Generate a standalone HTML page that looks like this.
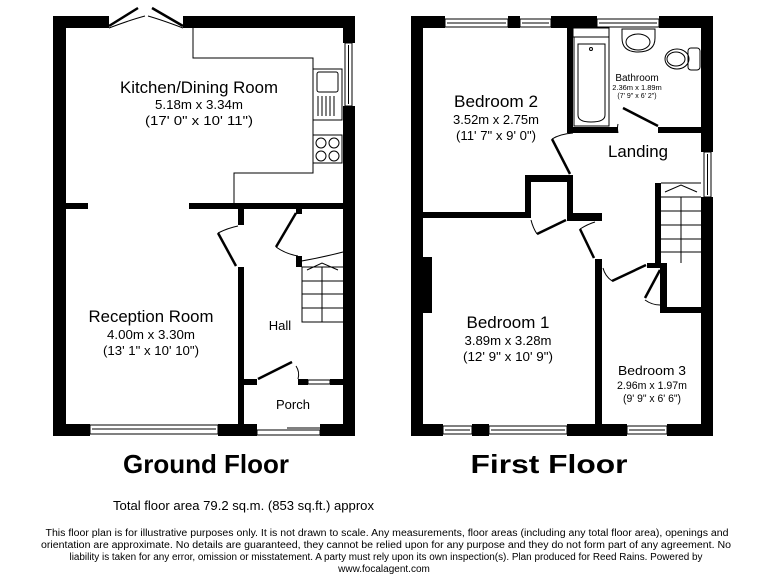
<!DOCTYPE html>
<html><head><meta charset="utf-8"><style>
html,body{margin:0;padding:0;background:#fff;}
svg{display:block;}
text{font-family:"Liberation Sans",Arial,sans-serif;fill:#000;}
</style></head><body>
<svg width="768" height="576" viewBox="0 0 768 576" xmlns="http://www.w3.org/2000/svg">
<g fill="#000">
<rect x="53" y="16" width="56" height="12"/>
<rect x="183" y="16" width="172" height="12"/>
<rect x="53" y="16" width="13" height="420"/>
<rect x="343" y="16" width="12" height="27"/>
<rect x="343" y="106" width="12" height="330"/>
<rect x="53" y="424" width="37" height="12"/>
<rect x="218" y="424" width="39" height="12"/>
<rect x="320" y="424" width="35" height="12"/>
<rect x="66" y="203" width="22" height="6"/>
<rect x="189" y="203" width="154" height="6"/>
<rect x="238" y="209" width="6" height="16"/>
<rect x="238" y="267" width="6" height="157"/>
<rect x="244" y="379" width="13" height="6"/>
<rect x="298" y="379" width="10" height="6"/>
<rect x="330" y="379" width="13" height="6"/>
<rect x="296" y="209" width="6" height="5"/>
<rect x="296" y="256" width="6" height="11"/>
</g>
<g fill="none" stroke="#000" stroke-width="1">
<rect x="345" y="43" width="7" height="63" fill="#fff"/>
<line x1="348.5" y1="45" x2="348.5" y2="104"/>
<rect x="90" y="425" width="128" height="9"/>
<line x1="92" y1="429" x2="216" y2="429"/>
<rect x="308" y="380" width="22" height="4"/>
<rect x="257" y="430" width="63" height="5"/>
<line x1="287" y1="428" x2="320" y2="428"/>
<polyline points="193,28 193,58 313,58 313,173 234,173 234,203"/>
<rect x="313" y="69" width="29" height="51"/>
<rect x="317" y="72" width="21" height="20" rx="2"/>
<line x1="318" y1="96" x2="318" y2="116"/><line x1="322" y1="96" x2="322" y2="116"/><line x1="326" y1="96" x2="326" y2="116"/><line x1="330" y1="96" x2="330" y2="116"/><line x1="334" y1="96" x2="334" y2="116"/>
<rect x="313" y="135" width="29" height="28"/>
<circle cx="321" cy="143" r="5"/><circle cx="334" cy="143" r="5"/><circle cx="321" cy="156" r="5"/><circle cx="334" cy="156" r="5"/>
<polyline points="343,267 302,267 302,322 343,322"/>
<line x1="302" y1="281" x2="343" y2="281"/><line x1="302" y1="294" x2="343" y2="294"/><line x1="302" y1="308" x2="343" y2="308"/>
<line x1="322" y1="267" x2="322" y2="322"/>
<polyline points="307,270 322,263 338,270"/>
<path d="M218,233 Q228,228 238,226"/>
<path d="M276,247 Q286,254 298,256"/>
<path d="M296,262 Q320,258 343,252"/>
<path d="M296,366 Q300,372 298,379"/>
<path d="M109,28 Q130,20 145,16"/><path d="M183,28 Q162,20 148,16"/>
</g>
<g stroke="#000" stroke-width="2.5" fill="none">
<line x1="218" y1="233" x2="236" y2="266"/>
<line x1="296" y1="213" x2="276" y2="247"/>
<line x1="258" y1="379" x2="292" y2="362"/>
<line x1="109" y1="26" x2="138" y2="8"/>
<line x1="183" y1="26" x2="152" y2="8"/>
</g>

<g fill="#000">
<rect x="411" y="16" width="34" height="12"/>
<rect x="508" y="16" width="12" height="12"/>
<rect x="551" y="16" width="46" height="12"/>
<rect x="659" y="16" width="54" height="12"/>
<rect x="411" y="16" width="12" height="420"/>
<rect x="701" y="16" width="12" height="136"/>
<rect x="701" y="197" width="12" height="239"/>
<rect x="411" y="424" width="32" height="12"/>
<rect x="472" y="424" width="17" height="12"/>
<rect x="567" y="424" width="60" height="12"/>
<rect x="667" y="424" width="46" height="12"/>
<rect x="567" y="28" width="6" height="105"/>
<rect x="567" y="127" width="51" height="6"/>
<rect x="658" y="127" width="43" height="6"/>
<rect x="423" y="212" width="108" height="6"/>
<rect x="525" y="175" width="48" height="7"/>
<rect x="525" y="175" width="6" height="43"/>
<rect x="567" y="175" width="6" height="46"/>
<rect x="567" y="213" width="35" height="8"/>
<rect x="595" y="259" width="7" height="165"/>
<rect x="655" y="183" width="6" height="85"/>
<rect x="647" y="263" width="20" height="5"/>
<rect x="660" y="268" width="7" height="45"/>
<rect x="660" y="307" width="41" height="6"/>
<rect x="423" y="257" width="9" height="56"/>
</g>
<g fill="none" stroke="#000" stroke-width="1">
<rect x="445" y="19" width="63" height="8"/><line x1="447" y1="23" x2="506" y2="23"/>
<rect x="520" y="19" width="31" height="8"/><line x1="522" y1="23" x2="549" y2="23"/>
<rect x="597" y="19" width="62" height="8"/><line x1="599" y1="23" x2="657" y2="23"/>
<rect x="704" y="152" width="7" height="45"/><line x1="707.5" y1="154" x2="707.5" y2="195"/>
<rect x="443" y="426" width="29" height="8"/><line x1="445" y1="430" x2="470" y2="430"/>
<rect x="489" y="426" width="78" height="8"/><line x1="491" y1="430" x2="565" y2="430"/>
<rect x="627" y="426" width="40" height="8"/><line x1="629" y1="430" x2="665" y2="430"/>
<rect x="573" y="28" width="36" height="9"/>
<rect x="574" y="37" width="35" height="89"/>
<path d="M578,44 L605,44 L605,115 Q605,122 591,122 Q578,122 578,115 Z"/>
<circle cx="591" cy="49" r="1.5"/>
<path d="M622,29 L655,29 L655,38 Q655,52 638,52 Q622,52 622,38 Z"/>
<ellipse cx="638" cy="42" rx="12" ry="8"/>
<rect x="688" y="48" width="12" height="22" rx="3"/>
<ellipse cx="677" cy="59" rx="12" ry="10"/>
<ellipse cx="676" cy="59" rx="9" ry="7"/>
<line x1="661" y1="183" x2="701" y2="183"/>
<line x1="661" y1="211" x2="701" y2="211"/><line x1="661" y1="225" x2="701" y2="225"/><line x1="661" y1="239" x2="701" y2="239"/><line x1="661" y1="252" x2="701" y2="252"/>
<line x1="681" y1="197" x2="681" y2="263"/>
<polyline points="665,192 681,185 697,192"/>
<line x1="661" y1="197" x2="701" y2="197"/>
<path d="M552,139 Q560,134 573,133"/>
<path d="M618,124 Q617,128 618,133"/>
<path d="M531,220 Q533,228 537,234"/>
<path d="M580,229 Q588,224 595,222"/>
<path d="M603,268 Q605,276 612,281"/>
<path d="M645,300 Q652,305 660,305"/>
</g>
<g stroke="#000" stroke-width="2.5" fill="none">
<line x1="552" y1="139" x2="570" y2="174"/>
<line x1="623" y1="108" x2="658" y2="126"/>
<line x1="537" y1="234" x2="566" y2="220"/>
<line x1="580" y1="229" x2="594" y2="258"/>
<line x1="612" y1="281" x2="646" y2="265"/>
<line x1="660" y1="270" x2="645" y2="298"/>
</g>

<g text-anchor="middle">
<text x="199" y="93" font-size="16.5" textLength="158" lengthAdjust="spacingAndGlyphs">Kitchen/Dining Room</text>
<text x="199" y="109" font-size="13" textLength="88" lengthAdjust="spacingAndGlyphs">5.18m x 3.34m</text>
<text x="199" y="125" font-size="13" textLength="108" lengthAdjust="spacingAndGlyphs">(17' 0" x 10' 11")</text>
<text x="151" y="322" font-size="16.5" textLength="125" lengthAdjust="spacingAndGlyphs">Reception Room</text>
<text x="151" y="339" font-size="13" textLength="88" lengthAdjust="spacingAndGlyphs">4.00m x 3.30m</text>
<text x="151" y="355" font-size="13" textLength="96" lengthAdjust="spacingAndGlyphs">(13' 1" x 10' 10")</text>
<text x="280" y="330" font-size="13">Hall</text>
<text x="293" y="409" font-size="13">Porch</text>
<text x="496" y="107" font-size="16.5" textLength="84" lengthAdjust="spacingAndGlyphs">Bedroom 2</text>
<text x="496" y="124" font-size="13" textLength="86" lengthAdjust="spacingAndGlyphs">3.52m x 2.75m</text>
<text x="496" y="140" font-size="13" textLength="80" lengthAdjust="spacingAndGlyphs">(11' 7" x 9' 0")</text>
<text x="637" y="81" font-size="10">Bathroom</text>
<text x="637" y="90" font-size="7.5">2.36m x 1.89m</text>
<text x="637" y="98" font-size="7">(7' 9" x 6' 2")</text>
<text x="638" y="157" font-size="16.5" textLength="60" lengthAdjust="spacingAndGlyphs">Landing</text>
<text x="508" y="328" font-size="16.5" textLength="83" lengthAdjust="spacingAndGlyphs">Bedroom 1</text>
<text x="508" y="345" font-size="13" textLength="87" lengthAdjust="spacingAndGlyphs">3.89m x 3.28m</text>
<text x="508" y="361" font-size="13" textLength="90" lengthAdjust="spacingAndGlyphs">(12' 9" x 10' 9")</text>
<text x="652" y="375" font-size="13" textLength="68" lengthAdjust="spacingAndGlyphs">Bedroom 3</text>
<text x="652" y="389" font-size="11" textLength="70" lengthAdjust="spacingAndGlyphs">2.96m x 1.97m</text>
<text x="652" y="402" font-size="11" textLength="58" lengthAdjust="spacingAndGlyphs">(9' 9" x 6' 6")</text>
<text x="206" y="473" font-size="26" font-weight="bold" textLength="166" lengthAdjust="spacingAndGlyphs">Ground Floor</text>
<text x="549" y="473" font-size="26" font-weight="bold" textLength="157" lengthAdjust="spacingAndGlyphs">First Floor</text>
</g>
<text x="113" y="510" font-size="13" textLength="261" lengthAdjust="spacingAndGlyphs">Total floor area 79.2 sq.m. (853 sq.ft.) approx</text>
<g text-anchor="middle" font-size="10">
<text x="387" y="536" textLength="683" lengthAdjust="spacingAndGlyphs">This floor plan is for illustrative purposes only. It is not drawn to scale. Any measurements, floor areas (including any total floor area), openings and</text>
<text x="386" y="548" textLength="690" lengthAdjust="spacingAndGlyphs">orientation are approximate. No details are guaranteed, they cannot be relied upon for any purpose and they do not form part of any agreement. No</text>
<text x="386" y="560" textLength="633" lengthAdjust="spacingAndGlyphs">liability is taken for any error, omission or misstatement. A party must rely upon its own inspection(s). Plan produced for Reed Rains. Powered by</text>
<text x="384" y="572">www.focalagent.com</text>
</g>
</svg>
</body></html>
